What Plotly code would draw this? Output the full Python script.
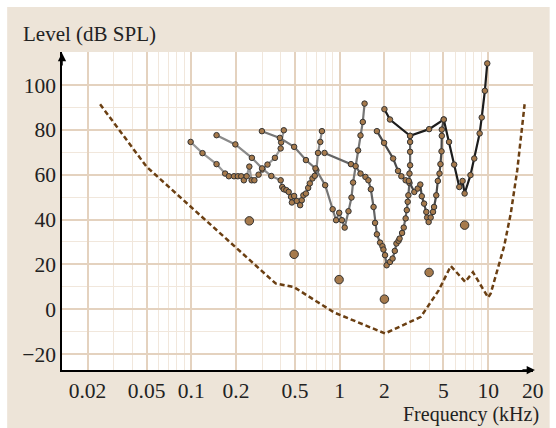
import plotly.graph_objects as go

# ---------------- data ----------------
# Absolute threshold (dashed)
thr_f = [0.0243, 0.05, 0.37, 0.49, 0.92, 2.02, 3.52, 4.65, 5.6, 7.0, 7.9, 10.0, 10.4, 12.8, 14.2, 15.7, 17.6]
thr_L = [91.4, 63.5, 11.5, 9.9, -1.5, -10.8, -3.4, 8.5, 19.3, 12.2, 16.5, 5.2, 7.0, 28.0, 42.7, 62.0, 91.4]

# Probe tones (large dots)
probe_f = [0.246, 0.493, 0.99, 2.0, 4.0, 6.94]
probe_L = [39.4, 24.5, 13.2, 4.5, 16.4, 37.5]

# Tuning curves
curveA_f = [0.099, 0.119, 0.148, 0.169, 0.179, 0.194, 0.206, 0.217, 0.226, 0.236, 0.246, 0.255, 0.266,
            0.284, 0.302, 0.326, 0.366, 0.40, 0.403, 0.42]
curveA_L = [74.6, 69.6, 64.7, 60.5, 59.3, 59.3, 59.3, 59.3, 57.5, 59.3, 63.6, 57.5, 57.5,
            60.0, 62.3, 64.5, 67.5, 71.7, 74.4, 79.8]

curveB_f = [0.148, 0.198, 0.256, 0.30, 0.346, 0.40, 0.41, 0.42, 0.437, 0.453, 0.47, 0.476, 0.493, 0.514,
            0.541, 0.555, 0.569, 0.592, 0.613, 0.629, 0.655, 0.679, 0.696, 0.714, 0.74, 0.759]
curveB_L = [77.6, 73.5, 67.5, 62.8, 59.4, 57.5, 54.5, 53.5, 53.1, 52.3, 50.1, 47.6, 50.5, 48.3,
            46.4, 48.6, 50.8, 51.6, 54.1, 56.1, 58.3, 59.5, 62.0, 69.7, 74.6, 79.4]

curveC_f = [0.299, 0.395, 0.493, 0.592, 0.686, 0.798, 0.896, 0.945, 0.992, 1.035, 1.08, 1.145, 1.2,
            1.23, 1.33, 1.38, 1.43, 1.47]
curveC_L = [79.4, 76.4, 72.4, 66.5, 62.8, 55.3, 44.6, 39.7, 43.0, 39.7, 36.4, 43.7, 49.8,
            56.5, 70.8, 77.5, 83.5, 91.7]

curveD_f = [0.79, 1.19, 1.28, 1.38, 1.49, 1.56, 1.62, 1.69, 1.73, 1.78, 1.87, 1.94, 1.97, 2.02, 2.07,
            2.18, 2.27, 2.35, 2.41, 2.49, 2.53, 2.63, 2.7, 2.78, 2.83, 2.87, 2.9, 2.95, 2.95, 2.98,
            2.98, 2.98, 2.98]
curveD_L = [69.7, 64.7, 63.8, 60.5, 59.0, 57.5, 53.5, 45.6, 38.5, 33.4, 29.7, 28.1, 26.6, 24.1, 19.6,
            21.1, 22.6, 26.0, 29.3, 30.5, 31.5, 34.0, 36.4, 40.5, 44.2, 47.9, 50.8, 56.3, 60.5, 64.2,
            70.2, 74.6, 77.3]

curveE_f = [1.78, 1.99, 2.29, 2.47, 2.6, 2.78, 2.92, 3.18, 3.35, 3.49, 3.57, 3.7, 3.83, 3.88, 3.97,
            4.1, 4.25, 4.32, 4.47, 4.58, 4.7, 4.77, 4.85, 4.87, 4.87, 5.02]
curveE_L = [79.4, 74.2, 67.2, 61.7, 59.3, 57.5, 57.2, 52.3, 53.8, 55.6, 50.4, 47.1, 43.4, 40.9, 38.9,
            40.9, 43.4, 45.6, 50.8, 57.2, 60.5, 64.7, 70.4, 77.3, 80.1, 84.6]

curveF_f = [2.0, 2.18, 2.98, 4.0, 5.02, 5.45, 5.9, 6.39, 6.72, 6.94, 7.6, 8.06, 8.76, 9.05, 9.5, 9.86]
curveF_L = [89.2, 84.6, 77.3, 80.3, 84.6, 74.6, 64.5, 54.5, 57.2, 51.6, 59.8, 67.2, 78.4, 85.5, 97.4, 109.6]

x_major = [0.02, 0.05, 0.1, 0.2, 0.5, 1, 2, 5, 10, 20]
x_major_text = ["0.02", "0.05", "0.1", "0.2", "0.5", "1", "2", "5", "10", "20"]
x_minor = [0.03, 0.04, 0.06, 0.07, 0.08, 0.09, 0.3, 0.4, 0.6, 0.7, 0.8, 0.9,
           3, 4, 6, 7, 8, 9]
y_major = [-20, 0, 20, 40, 60, 80, 100]
y_minor = [-10, 10, 30, 50, 70, 90]

# ---------------- styling ----------------
FONT = "Liberation Serif, Times New Roman, serif"
BEIGE = "#EDE4D8"
GRID_MAJ = "#E4D2BF"
GRID_MIN = "#F1E7DC"
DOT_FILL = "#A67A4C"
DOT_EDGE = "#333333"

fig = go.Figure()

fig.add_trace(go.Scatter(x=thr_f, y=thr_L, mode="lines",
                         line=dict(color="#6B3F12", width=2.5, dash="5px,3px"),
                         hoverinfo="skip", showlegend=False))

curves = [
    (curveA_f, curveA_L, "#999999"),
    (curveB_f, curveB_L, "#8a8a8a"),
    (curveC_f, curveC_L, "#767676"),
    (curveD_f, curveD_L, "#646464"),
    (curveE_f, curveE_L, "#4a4a4a"),
    (curveF_f, curveF_L, "#1c1c1c"),
]
for cf, cl, col in curves:
    fig.add_trace(go.Scatter(x=cf, y=cl, mode="lines+markers",
                             line=dict(color=col, width=2.2),
                             marker=dict(size=5.5, color=DOT_FILL, line=dict(color=DOT_EDGE, width=1)),
                             showlegend=False))

fig.add_trace(go.Scatter(x=probe_f, y=probe_L, mode="markers",
                         marker=dict(size=8.5, color=DOT_FILL, line=dict(color=DOT_EDGE, width=1)),
                         showlegend=False))

W, H = 556, 428
ml, mr, mt, mb = 62, 13, 52, 58
pw, ph = W - ml - mr, H - mt - mb

def px2paper_x(px):
    return (px - ml) / pw

def px2paper_y(py):
    return (H - mb - py) / ph

fig.update_layout(
    width=W, height=H, autosize=False,
    margin=dict(l=ml, r=mr, t=mt, b=mb, pad=0),
    paper_bgcolor="white", plot_bgcolor="white",
    font=dict(family=FONT, color="#222222", size=20),
    shapes=[
        dict(type="rect", xref="paper", yref="paper", layer="below",
             x0=px2paper_x(6), x1=px2paper_x(560), y0=px2paper_y(432), y1=px2paper_y(7),
             fillcolor=BEIGE, line=dict(width=0)),
        dict(type="rect", xref="paper", yref="paper", layer="below",
             x0=0, x1=1, y0=0, y1=1, fillcolor="white", line=dict(width=0)),
    ],
    annotations=[
        dict(text="Level (dB SPL)", xref="paper", yref="paper", x=px2paper_x(20), y=px2paper_y(34),
             xanchor="left", yanchor="middle", showarrow=False, font=dict(size=21, family=FONT, color="#222")),
        dict(text="Frequency (kHz)", xref="paper", yref="paper", x=px2paper_x(551), y=px2paper_y(414),
             xanchor="right", yanchor="middle", showarrow=False, font=dict(size=20, family=FONT, color="#222")),
        dict(text="", xref="paper", yref="paper", x=0, y=px2paper_y(53), ax=0, ay=14,
             showarrow=True, arrowhead=2, arrowsize=1.1, arrowwidth=1.5, arrowcolor="black"),
        dict(text="", xref="paper", yref="paper", x=px2paper_x(545), y=0, ax=-14, ay=0,
             showarrow=True, arrowhead=2, arrowsize=1.1, arrowwidth=1.5, arrowcolor="black"),
    ],
)

fig.update_xaxes(
    type="log", range=[-1.871, 1.302],
    tickmode="array", tickvals=x_major, ticktext=x_major_text,
    showgrid=True, gridcolor=GRID_MAJ, gridwidth=1.6,
    minor=dict(tickvals=x_minor, showgrid=True, gridcolor=GRID_MIN, gridwidth=1, ticks=""),
    showline=True, linecolor="black", linewidth=1.5,
    ticks="", zeroline=False, ticklabelstandoff=0,
    tickfont=dict(family=FONT, size=21.5, color="#222"),
)
fig.update_yaxes(
    range=[-27.1, 114.7],
    tickmode="array", tickvals=y_major,
    showgrid=True, gridcolor=GRID_MAJ, gridwidth=1.6,
    minor=dict(tickvals=y_minor, showgrid=True, gridcolor=GRID_MIN, gridwidth=1, ticks=""),
    showline=True, linecolor="black", linewidth=1.5,
    ticks="", zeroline=False, ticklabelstandoff=0,
    tickfont=dict(family=FONT, size=21.5, color="#222"),
)

fig.write_html("out.html")
